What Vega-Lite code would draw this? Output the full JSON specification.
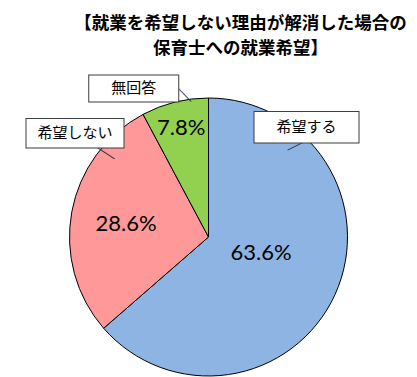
{
  "$schema": "https://vega.github.io/schema/vega-lite/v6.json",
  "width": 417,
  "height": 280,
  "autosize": {"type": "none"},
  "padding": {"left": 0, "top": 97, "right": 0, "bottom": 0},
  "background": "white",
  "title": {
    "text": ["【就業を希望しない理由が解消した場合の", "保育士への就業希望】"],
    "font": "Noto Sans CJK JP",
    "fontSize": 17.5,
    "fontWeight": "bold",
    "lineHeight": 25,
    "color": "black",
    "anchor": "middle",
    "dx": 32,
    "offset": -49
  },
  "data": {
    "values": [
      {"idx": 1, "cat": "希望する", "pct": 63.6, "label": "63.6%"},
      {"idx": 2, "cat": "希望しない", "pct": 28.6, "label": "28.6%"},
      {"idx": 3, "cat": "無回答", "pct": 7.8, "label": "7.8%"}
    ]
  },
  "encoding": {
    "theta": {"field": "pct", "type": "quantitative", "stack": true},
    "order": {"field": "idx", "type": "quantitative"}
  },
  "layer": [
    {
      "mark": {"type": "arc", "outerRadius": 139, "stroke": "black", "strokeWidth": 1},
      "encoding": {
        "color": {
          "field": "cat", "type": "nominal", "legend": null,
          "scale": {"domain": ["希望する", "希望しない", "無回答"], "range": ["#8EB4E3", "#FF9999", "#92D050"]}
        }
      }
    },
    {
      "mark": {"type": "text", "radius": 55, "thetaOffset": -0.124, "font": "Lato", "fontSize": 22, "color": "black"},
      "encoding": {"text": {"condition": {"test": "datum.cat === '希望する'", "field": "label"}, "value": ""}}
    },
    {
      "mark": {"type": "text", "radius": 83.5, "thetaOffset": -0.025, "font": "Lato", "fontSize": 22, "color": "black"},
      "encoding": {"text": {"condition": {"test": "datum.cat === '希望しない'", "field": "label"}, "value": ""}}
    },
    {
      "mark": {"type": "text", "radius": 112.4, "thetaOffset": 0, "font": "Lato", "fontSize": 22, "color": "black"},
      "encoding": {"text": {"condition": {"test": "datum.cat === '無回答'", "field": "label"}, "value": ""}}
    },
    {
      "mark": {"type": "text", "radius": 126, "thetaOffset": -1.2232, "angle": -26.4, "font": "Noto Sans CJK JP", "fontSize": 19, "color": "#333333"},
      "encoding": {"text": {"condition": {"test": "datum.cat === '希望する'", "value": "─"}, "value": ""}}
    },
    {
      "mark": {"type": "text", "radius": 135.3, "thetaOffset": 0.4828, "angle": 33, "font": "Noto Sans CJK JP", "fontSize": 27, "color": "#333333"},
      "encoding": {"text": {"condition": {"test": "datum.cat === '希望しない'", "value": "─"}, "value": ""}}
    },
    {
      "mark": {"type": "text", "radius": 143.8, "thetaOffset": 0.0672, "angle": 46, "font": "Noto Sans CJK JP", "fontSize": 20, "color": "#333333"},
      "encoding": {"text": {"condition": {"test": "datum.cat === '無回答'", "value": "─"}, "value": ""}}
    },
    {
      "mark": {"type": "text", "radius": 147.3, "thetaOffset": -1.2706, "dy": -15.75, "font": "Noto Sans CJK JP", "fontSize": 105, "fill": "white", "stroke": "#404040", "strokeWidth": 1},
      "encoding": {"text": {"condition": {"test": "datum.cat === '希望する'", "value": "▬"}, "value": ""}}
    },
    {
      "mark": {"type": "text", "radius": 168.9, "thetaOffset": 0.4775, "dy": -14.7, "font": "Noto Sans CJK JP", "fontSize": 98, "fill": "white", "stroke": "#404040", "strokeWidth": 1},
      "encoding": {"text": {"condition": {"test": "datum.cat === '希望しない'", "value": "▬"}, "value": ""}}
    },
    {
      "mark": {"type": "text", "radius": 166.6, "thetaOffset": -0.2195, "dy": -13.5, "font": "Noto Sans CJK JP", "fontSize": 90, "fill": "white", "stroke": "#404040", "strokeWidth": 1},
      "encoding": {"text": {"condition": {"test": "datum.cat === '無回答'", "value": "▬"}, "value": ""}}
    },
    {
      "mark": {"type": "text", "radius": 147.3, "thetaOffset": -1.2706, "font": "Noto Sans CJK JP", "fontSize": 15, "color": "black"},
      "encoding": {"text": {"condition": {"test": "datum.cat === '希望する'", "field": "cat"}, "value": ""}}
    },
    {
      "mark": {"type": "text", "radius": 168.9, "thetaOffset": 0.4775, "font": "Noto Sans CJK JP", "fontSize": 15, "color": "black"},
      "encoding": {"text": {"condition": {"test": "datum.cat === '希望しない'", "field": "cat"}, "value": ""}}
    },
    {
      "mark": {"type": "text", "radius": 166.6, "thetaOffset": -0.2195, "font": "Noto Sans CJK JP", "fontSize": 15, "color": "black"},
      "encoding": {"text": {"condition": {"test": "datum.cat === '無回答'", "field": "cat"}, "value": ""}}
    }
  ]
}
